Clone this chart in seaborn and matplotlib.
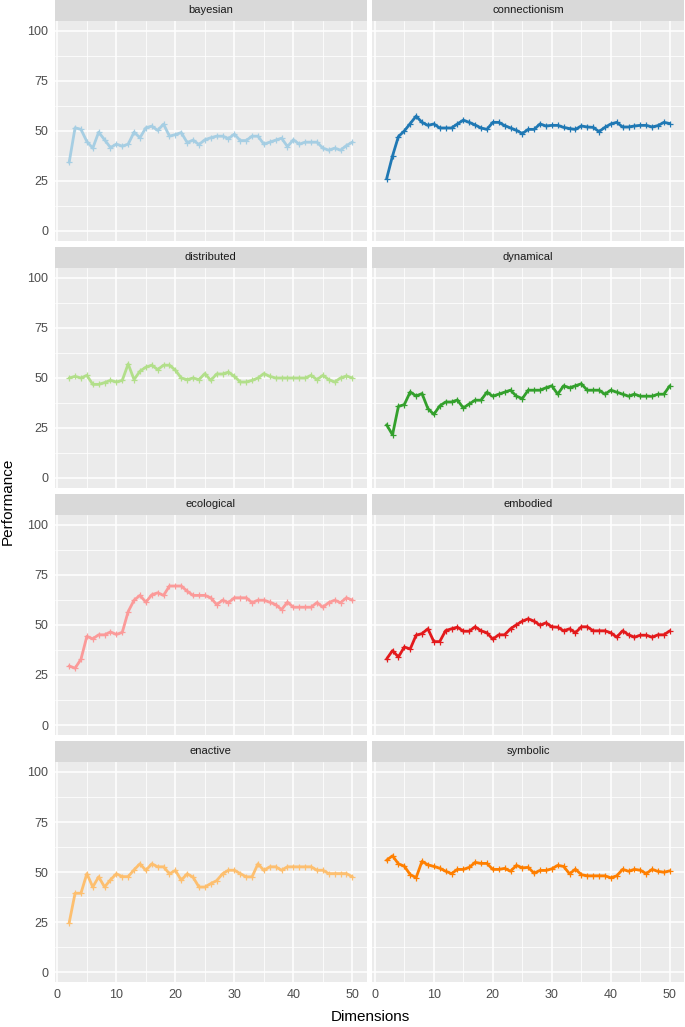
import numpy as np
import pandas as pd
import matplotlib.pyplot as plt
import seaborn as sns
from matplotlib.patches import Rectangle

# data (dimensions 2..50)
dims = list(range(2, 51))
models = ["bayesian", "connectionism", "distributed", "dynamical",
          "ecological", "embodied", "enactive", "symbolic"]

bayesian = [34.3, 51.6, 50.8, 44.7, 41.4, 49.4, 45.6, 41.7, 43.4, 42.4,
            43.4, 49.4, 46.6, 51.6, 52.4, 50.3, 53.4, 47.4, 48.2, 49.2,
            44.2, 45.4, 43.2, 45.6, 46.6, 47.4, 47.4, 46.2, 48.4, 45.2,
            45.2, 47.4, 47.4, 43.4, 44.4, 45.4, 46.4, 42.2, 45.6, 43.4,
            44.4, 44.4, 44.4, 41.4, 40.4, 41.4, 40.4, 42.7, 44.4]
connectionism = [26.1, 37.5, 47.2, 50.0, 53.7, 57.4, 54.3, 52.8, 53.5, 51.5,
                 51.5, 51.5, 53.5, 55.4, 54.3, 53.0, 51.5, 50.8, 54.3, 54.3,
                 52.7, 51.5, 50.3, 48.7, 50.8, 50.8, 53.5, 52.5, 52.8, 52.8,
                 51.8, 51.2, 50.8, 52.5, 52.0, 51.8, 49.7, 51.8, 53.5, 54.3,
                 52.0, 52.0, 52.5, 52.8, 52.8, 52.0, 52.7, 54.3, 53.7]
distributed = [50.0, 50.8, 50.0, 51.3, 46.8, 46.8, 47.7, 48.8, 48.0, 48.8,
               57.0, 49.2, 53.4, 55.4, 56.4, 54.2, 56.4, 56.4, 53.9, 50.0,
               49.2, 50.0, 49.2, 52.2, 48.8, 52.0, 52.0, 52.9, 50.8, 48.0,
               48.0, 48.8, 50.0, 52.2, 50.8, 50.0, 50.0, 50.0, 50.0, 50.0,
               50.0, 51.3, 49.2, 51.3, 49.2, 48.0, 50.0, 51.0, 50.0]
dynamical = [26.6, 21.6, 35.8, 36.7, 43.0, 41.0, 42.2, 34.7, 31.8, 36.0,
             38.0, 38.0, 39.0, 35.0, 37.0, 38.9, 38.9, 42.9, 40.9, 41.9,
             42.9, 43.9, 40.9, 39.7, 43.9, 43.9, 43.9, 45.1, 46.1, 41.9,
             46.1, 45.1, 46.1, 47.1, 43.9, 43.9, 43.9, 41.9, 43.9, 42.9,
             41.9, 40.9, 41.9, 40.9, 40.9, 40.9, 41.9, 41.9, 46.1]
ecological = [29.5, 28.4, 32.9, 44.3, 43.1, 45.1, 45.1, 46.5, 45.3, 46.3,
              56.7, 62.4, 64.8, 61.4, 65.1, 66.1, 64.8, 69.5, 69.5, 69.5,
              66.9, 64.8, 64.8, 64.8, 63.6, 60.2, 62.4, 61.2, 63.6, 63.6,
              63.6, 61.2, 62.4, 62.4, 61.4, 60.2, 57.7, 61.4, 58.9, 58.9,
              58.9, 58.9, 61.2, 58.9, 61.2, 62.4, 61.2, 63.6, 62.4]
embodied = [33.0, 37.2, 34.0, 39.0, 38.0, 44.9, 45.7, 48.1, 41.7, 41.7,
            47.2, 48.1, 48.9, 46.9, 46.9, 49.1, 47.1, 46.1, 42.9, 45.1,
            45.1, 48.1, 50.1, 51.9, 53.1, 51.9, 49.9, 51.1, 49.1, 48.9,
            47.1, 48.1, 46.1, 49.1, 49.1, 47.1, 47.1, 47.1, 46.1, 43.9,
            47.1, 45.1, 43.9, 44.9, 44.9, 43.9, 45.1, 45.1, 47.1]
enactive = [24.6, 39.4, 39.4, 49.2, 42.5, 47.6, 42.5, 46.1, 49.1, 47.7,
            47.7, 51.1, 54.1, 50.8, 54.1, 52.6, 52.6, 49.1, 50.8, 45.9,
            49.1, 47.4, 42.5, 42.5, 44.2, 45.7, 49.1, 50.9, 50.9, 49.2,
            47.6, 47.6, 54.1, 50.8, 52.6, 52.6, 50.9, 52.6, 52.6, 52.6,
            52.6, 52.6, 50.9, 50.9, 49.2, 49.2, 49.2, 49.2, 47.6]
symbolic = [55.9, 58.1, 54.1, 52.9, 48.7, 47.2, 55.3, 53.6, 52.8, 51.9,
            50.4, 49.2, 51.3, 51.3, 52.3, 54.8, 54.3, 54.3, 51.3, 51.3,
            51.8, 50.4, 53.3, 52.1, 52.3, 49.4, 50.8, 50.8, 51.6, 53.3,
            52.8, 49.1, 51.4, 48.7, 48.1, 48.1, 48.1, 48.1, 47.1, 48.1,
            51.3, 50.4, 51.3, 50.9, 49.2, 51.3, 50.3, 49.9, 50.6]

series = [bayesian, connectionism, distributed, dynamical,
          ecological, embodied, enactive, symbolic]
colors = sns.color_palette("Paired", 8)

df = pd.concat([pd.DataFrame({"Dimensions": dims, "Performance": v, "model": m})
                for m, v in zip(models, series)], ignore_index=True)

sns.set_theme(style="darkgrid", rc={
    "axes.facecolor": "#EBEBEB",
    "grid.color": "white",
    "grid.linewidth": 1.1,
    "axes.edgecolor": "#EBEBEB",
})
plt.rcParams["font.family"] = ["Liberation Sans", "DejaVu Sans"]

g = sns.FacetGrid(df, col="model", col_wrap=2, col_order=models,
                  hue="model", hue_order=models, palette=colors,
                  sharex=True, sharey=True, height=2.5, aspect=1.4, despine=False)
g.map_dataframe(sns.lineplot, x="Dimensions", y="Performance",
                marker="+", markersize=5, linewidth=2.0)

g.figure.set_size_inches(6.85, 10.27)
g.figure.subplots_adjust(left=0.0803, right=0.9985, top=0.9796, bottom=0.0438,
                         hspace=0.1227, wspace=0.019)
g.set_titles("")
g.set_axis_labels("", "")

axes = g.axes.flatten()
strip_h = 21 / 220
for i, (ax, name) in enumerate(zip(axes, models)):
    for ln in ax.get_lines():
        ln.set_markeredgecolor(ln.get_color())
        ln.set_markeredgewidth(0.9)
    ax.set_xlim(-0.4, 52.4)
    ax.set_ylim(-5, 105)
    ax.set_xticks([0, 10, 20, 30, 40, 50])
    ax.set_yticks([0, 25, 50, 75, 100])
    ax.set_xticks([5, 15, 25, 35, 45], minor=True)
    ax.set_yticks([12.5, 37.5, 62.5, 87.5], minor=True)
    ax.grid(which="major", color="white", linewidth=1.1)
    ax.grid(which="minor", color="white", linewidth=0.55)
    for s in ax.spines.values():
        s.set_visible(False)
    ax.tick_params(which="both", length=0, labelsize=9, labelcolor="#4D4D4D", pad=2)
    if i % 2 == 0:
        ax.tick_params(axis="y", which="major", length=3, width=0.8, color="#333333")
    if i >= 6:
        ax.tick_params(axis="x", which="major", length=3, width=0.8, color="#333333")
    ax.add_patch(Rectangle((0, 1), 1, strip_h, transform=ax.transAxes,
                           facecolor="#D9D9D9", edgecolor="none", clip_on=False))
    ax.text(0.5, 1 + strip_h / 2, name, transform=ax.transAxes, ha="center",
            va="center", fontsize=8, color="#1A1A1A")

g.figure.text(0.012, 0.512, "Performance", rotation=90, ha="center", va="center",
              fontsize=11, color="black")
g.figure.text(0.54, 0.0097, "Dimensions", ha="center", va="center",
              fontsize=11, color="black")

g.figure.savefig("out.png", dpi=100)
